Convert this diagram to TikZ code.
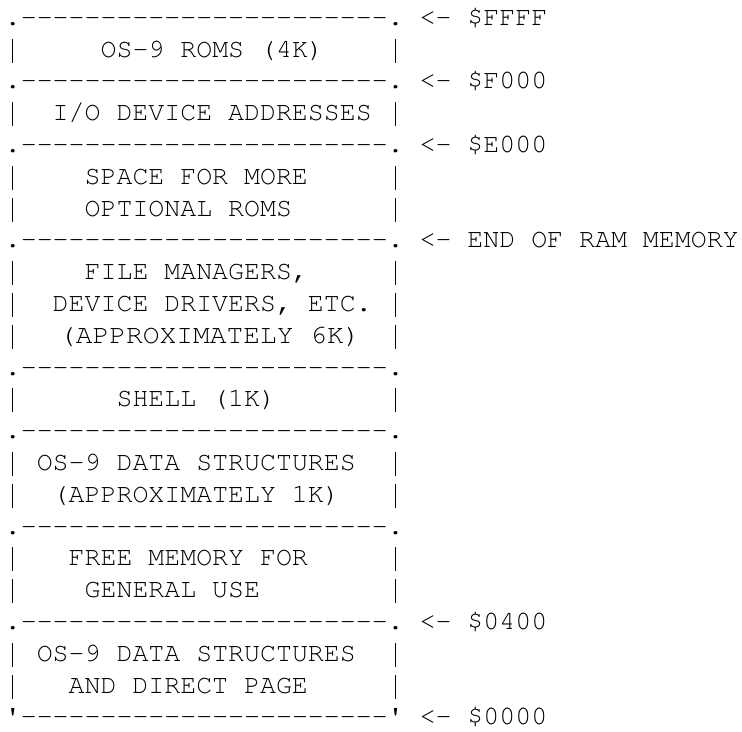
\documentclass[tikz,border=0pt]{standalone}
\usepackage[T1]{fontenc}
\usepackage{courier}
\usetikzlibrary{matrix}
\DeclareRobustCommand{\side}{\makebox[0.6em]{\fontfamily{lmtt}\selectfont\textbar}}
\newcommand{\dd}{-{}-{}-{}-{}-{}}
\newcommand{\rim}{.\dd\dd\dd\dd-{}-{}-.}
\newcommand{\rimend}{\textquotesingle\dd\dd\dd\dd-{}-{}-\textquotesingle}
\frenchspacing

\begin{document}
\begin{tikzpicture}
  \fill[white] (0,0) rectangle (742pt,-733pt);
  \matrix (mem) [matrix of nodes,
    matrix anchor=ffff.base west,
    row sep={31.9pt,between origins},
    nodes={anchor=base west, inner sep=0pt, font=\ttfamily\fontsize{26.67}{32}\selectfont},
  ] at (4.7pt,-25.3pt) {
|(ffff)|\rim{} <- \$FFFF \\
{}\side~~~~~OS-9 ROMS (4K)~~~~\side \\
|(f000)|\rim{} <- \$F000 \\
{}\side~~I/O DEVICE ADDRESSES~\side \\
|(e000)|\rim{} <- \$E000 \\
{}\side~~~~SPACE FOR MORE~~~~~\side \\
{}\side~~~~OPTIONAL ROMS~~~~~~\side \\
|(ramend)|\rim{} <- END OF RAM MEMORY \\
{}\side~~~~FILE MANAGERS,~~~~~\side \\
{}\side~~DEVICE DRIVERS, ETC.~\side \\
{}\side\makebox[13.8em][l]{\hspace{1.44em}\scalebox{1.05}[1]{(APPROXIMATELY 6K)}}\side \\
\rim \\
{}\side~~~~~~SHELL (1K)~~~~~~~\side \\
\rim \\
{}\side~OS-9 DATA STRUCTURES~~\side \\
{}\side~~(APPROXIMATELY 1K)~~~\side \\
\rim \\
{}\side~~~FREE MEMORY FOR~~~~~\side \\
{}\side~~~~GENERAL USE~~~~~~~~\side \\
|(o400)|\rim{} <- \$0400 \\
{}\side~OS-9 DATA STRUCTURES~~\side \\
{}\side~~~AND DIRECT PAGE~~~~~\side \\
|(o000)|\rimend{} <- \$0000 \\
};
\end{tikzpicture}
\end{document}
